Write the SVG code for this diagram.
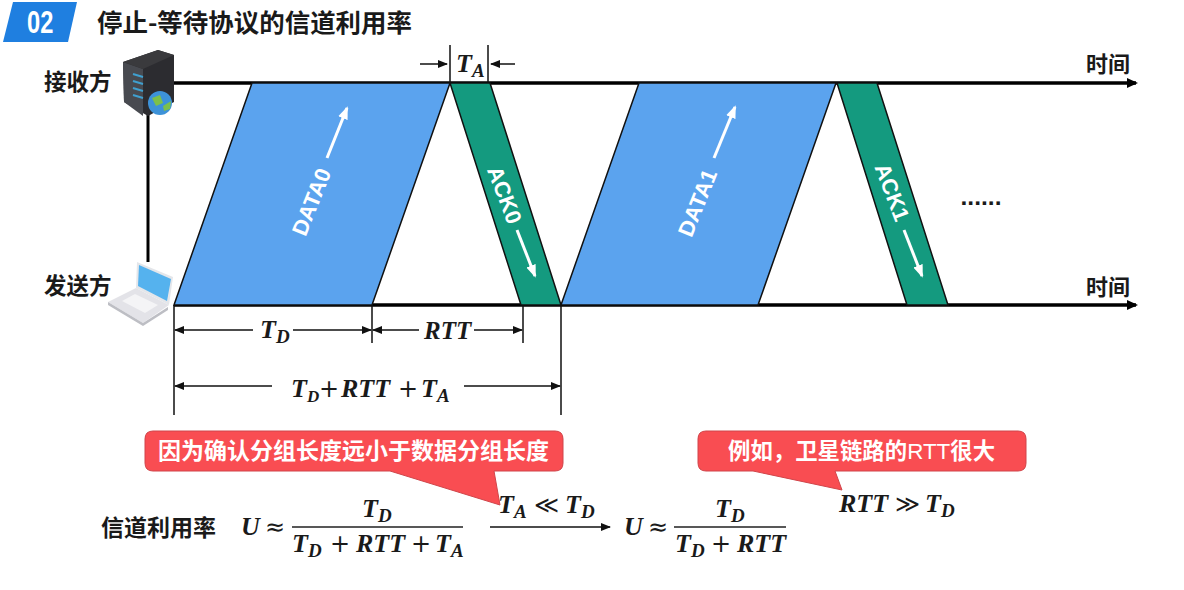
<svg xmlns="http://www.w3.org/2000/svg" width="1184" height="590" viewBox="0 0 1184 590">
<style>
.cjk{font-family:"Noto Sans CJK SC","Noto Sans",sans-serif;font-weight:700;fill:#1a1a1a}
.w{fill:#fff}
.m{font-family:"Liberation Serif",serif;font-weight:700;font-style:italic;font-size:26px;fill:#1a1a1a}
.n{font-family:"DejaVu Sans",sans-serif;font-style:normal;font-weight:400;font-size:24px}
.s{font-size:19px}
.lat{font-family:"Liberation Sans",sans-serif;font-weight:700;font-size:22px;fill:#fff}
.ax{stroke:#000;stroke-width:3.5;fill:none}
.thin{stroke:#111;stroke-width:1.5;fill:none}
.arr{stroke:#111;stroke-width:1.5;fill:none;marker-end:url(#a)}
.warr{stroke:#fff;stroke-width:3;fill:none;marker-end:url(#wa)}
.d{fill:#5ba3ee;stroke:#111;stroke-width:1.5}
.k{fill:#149a7f;stroke:#111;stroke-width:1.5}
.call{fill:#f94d52;stroke:#d0454a;stroke-width:1}
</style>
<defs>
<marker id="a" markerWidth="10" markerHeight="8" refX="9" refY="4" orient="auto" markerUnits="userSpaceOnUse"><path d="M0 0L10 4L0 8Z" fill="#111"/></marker>
<marker id="ax" markerWidth="12" markerHeight="12" refX="9" refY="6" orient="auto" markerUnits="userSpaceOnUse"><path d="M0 1L11 6L0 11Z" fill="#000"/></marker>
<marker id="wa" markerWidth="13" markerHeight="12" refX="11" refY="6" orient="auto" markerUnits="userSpaceOnUse"><path d="M0 1L13 6L0 11Z" fill="#fff"/></marker>
</defs>
<rect width="1184" height="590" fill="#fff"/>
<g id="header">
<path d="M13 2H77L68 42H3Z" fill="#1f7fe0"/>
<text transform="translate(27,33) scale(.74,1)" font-family="Liberation Sans" font-weight="700" font-size="32" fill="#fff">02</text>
<text class="cjk" x="97" y="32" font-size="25" textLength="315" lengthAdjust="spacingAndGlyphs">停止-等待协议的信道利用率</text>
</g>
<g id="connectors">
<path class="ax" d="M148 83H1136" marker-end="url(#ax)"/>
<path class="ax" d="M174 305H1136" marker-end="url(#ax)"/>
<path d="M148 108V262" stroke="#000" stroke-width="3" fill="none"/>
<path class="thin" d="M450 45V83M488 45V83M174 305V415M372 305V343M523 305V343M561 305V415"/>
<path class="arr" d="M420 64H447"/><path class="arr" d="M515 64H491"/>
<path class="arr" d="M253 330H175"/><path class="arr" d="M293 330H371"/>
<path class="arr" d="M419 330H373"/><path class="arr" d="M474 330H522"/>
<path class="arr" d="M272 386H175"/><path class="arr" d="M464 386H560"/>
<path class="arr" d="M490 527H610"/>
</g>
<g id="data0"><path class="d" d="M174 305L252 83H450L372 305Z"/>
<text class="lat" transform="translate(318.5,204.7) rotate(-68)" text-anchor="middle">DATA0</text>
<path class="warr" d="M327 158L347 108"/></g>
<g id="ack0"><path class="k" d="M450 83H490L561 305H521Z"/>
<text class="lat" transform="translate(497.5,197.6) rotate(69)" text-anchor="middle">ACK0</text>
<path class="warr" d="M517 230L535 276"/></g>
<g id="data1"><path class="d" d="M561 305L639 83H836L758 305Z"/>
<text class="lat" transform="translate(704.5,205.7) rotate(-68)" text-anchor="middle">DATA1</text>
<path class="warr" d="M714 158L735 107"/></g>
<g id="ack1"><path class="k" d="M837 83H877L948 305H907Z"/>
<text class="lat" transform="translate(885,195) rotate(69)" text-anchor="middle">ACK1</text>
<path class="warr" d="M904 230L922 276"/></g>
<g id="axis-ta"><text class="m" x="456" y="72">T<tspan class="s" dy="5">A</tspan></text></g>
<g id="time1"><text class="cjk" x="1086" y="72" font-size="22">时间</text></g>
<g id="time2"><text class="cjk" x="1086" y="295" font-size="22">时间</text></g>
<g id="dots"><text x="981" y="205" text-anchor="middle" font-family="Liberation Sans" font-weight="700" font-size="24.6" fill="#1a1a1a">......</text></g>
<g id="receiver">
<text class="cjk" x="44" y="90" font-size="22.5">接收方</text>
<path d="M123 62L158 50L174 55V102L148 116L124 102Z" fill="#2c2c30"/>
<path d="M123 62L143 69V116L124 102Z" fill="#484a50"/>
<path d="M123 62L158 50L174 55L143 69Z" fill="#3a3a3d"/>
<path d="M133 74L143 77M133 81L143 84M133 88L143 91M133 95L143 98" stroke="#3fa0d0" stroke-width="2"/>
<circle cx="160" cy="103" r="12" fill="#3d92d8"/>
<path d="M152 98L160 95L163 103L156 106ZM163 106L171 101L170 109L164 111Z" fill="#7cc04a"/>
</g>
<g id="sender">
<text class="cjk" x="44" y="294" font-size="22.5">发送方</text>
<path d="M108 302L136 288L169 305L143 323Z" fill="#e3e3e8"/>
<path d="M108 302L143 323L168 307L168 310L143 326L108 305Z" fill="#bdbec4"/>
<path d="M122 301L135 294L158 305L145 313Z" fill="#f4f4f6"/>
<path d="M137 262L173 277L169 305L136 288Z" fill="#e4e6ea"/>
<path d="M139 265L171 279L167 301L138 286Z" fill="#55b2ee"/>
</g>
<g id="labels">
<text class="m" x="260" y="338">T<tspan class="s" dy="5">D</tspan></text>
<text class="m" x="424" y="339" font-size="25" style="font-size:25px">RTT</text>
<text class="m" y="397"><tspan x="291">T</tspan><tspan class="s" dy="5" style="font-size:17px">D</tspan><tspan class="n" x="319" dy="-5">+</tspan><tspan x="341">RTT</tspan><tspan class="n" x="398">+</tspan><tspan x="421">T</tspan><tspan class="s" dy="5">A</tspan></text>
</g>
<g id="callout1">
<path class="call" d="M153 431H555Q563 431 563 439V463Q563 471 555 471H494L500 505L390 471H153Q145 471 145 463V439Q145 431 153 431Z"/>
<text class="cjk w" x="158" y="459" font-size="23">因为确认分组长度远小于数据分组长度</text>
</g>
<g id="callout2">
<path class="call" d="M706 431H1018Q1026 431 1026 439V463Q1026 471 1018 471H835L842 490L753 471H706Q698 471 698 463V439Q698 431 706 431Z"/>
<text class="cjk w" x="728" y="459" font-size="22.4">例如，卫星链路的<tspan font-family="Liberation Sans" font-weight="400">RTT</tspan>很大</text>
</g>
<g id="formula">
<text class="cjk" x="101" y="536" font-size="23">信道利用率</text>
<text class="m" x="241" y="535">U<tspan class="n" x="265">≈</tspan></text>
<path d="M292 527H463M674 527H786" stroke="#222" stroke-width="1.6"/>
<text class="m" x="362" y="517">T<tspan class="s" dy="5">D</tspan></text>
<text class="m" y="552"><tspan x="292">T</tspan><tspan class="s" dy="5">D</tspan><tspan class="n" x="330" dy="-5">+</tspan><tspan x="356">RTT</tspan><tspan class="n" x="411">+</tspan><tspan x="435">T</tspan><tspan class="s" dy="5">A</tspan></text>
<text class="m" y="513"><tspan x="498">T</tspan><tspan class="s" dy="5">A</tspan><tspan class="n" x="534" dy="-5">≪</tspan><tspan x="565">T</tspan><tspan class="s" dy="5">D</tspan></text>
<text class="m" x="624" y="535">U<tspan class="n" x="648">≈</tspan></text>
<text class="m" x="715" y="517">T<tspan class="s" dy="5">D</tspan></text>
<text class="m" y="552"><tspan x="675">T</tspan><tspan class="s" dy="5">D</tspan><tspan class="n" x="711" dy="-5">+</tspan><tspan x="737">RTT</tspan></text>
<text class="m" y="512"><tspan x="839">RTT</tspan><tspan class="n" x="895">≫</tspan><tspan x="925">T</tspan><tspan class="s" dy="5">D</tspan></text>
</g>
</svg>
